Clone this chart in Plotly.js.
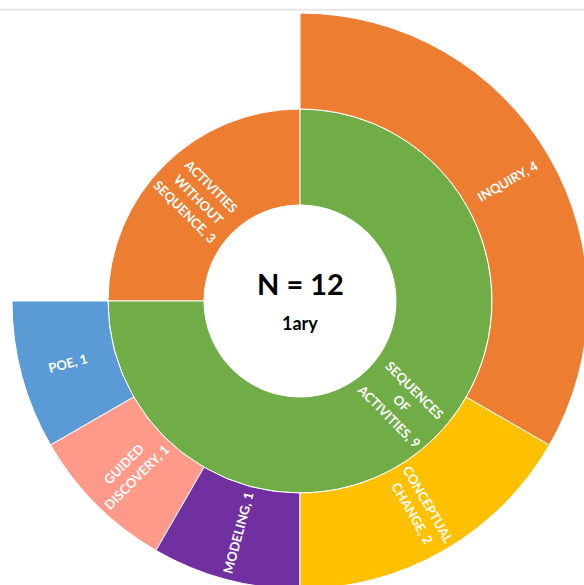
<!DOCTYPE html>
<html>
<head>
<meta charset="utf-8">
<script src="https://cdn.plot.ly/plotly-3.0.1.min.js"></script>
<style>
html,body{margin:0;padding:0;overflow:hidden;background:#fff;width:584px;height:585px;}
#chart{width:589px;height:589px;}
</style>
</head>
<body>
<div id="chart"></div>
<script>
// Data (order is counterclockwise from 12 o'clock, as the sunburst draws it)
const ids = ['root', 'wo', 'seq', 'poe', 'gd', 'mod', 'cc', 'inq'];
const labels = ['N = 12', 'ACTIVITIES<br>WITHOUT<br>SEQUENCE', 'SEQUENCES<br>OF<br>ACTIVITIES', 'POE', 'GUIDED<br>DISCOVERY', 'MODELING', 'CONCEPTUAL<br>CHANGE', 'INQUIRY'];
const parents = ['', 'root', 'root', 'seq', 'seq', 'seq', 'seq', 'seq'];
const values = [12, 3, 9, 1, 1, 1, 2, 4];
const colors = ['#FFFFFF', '#ED7D31', '#70AD47', '#5B9BD5', '#FF9A8A', '#7030A0', '#FFC000', '#ED7D31'];
const centerTitle = 'N = 12';
const centerSub = '1ary';

// Layout constants
const W = 589, H = 589, ML = 12, MR = 1, MT = 13, MB = 0;
const R = Math.min(W - ML - MR, H - MT - MB) / 2;   // outer radius of the sunburst
const ringW = R / 3;                                  // root disc + 2 rings
const lineGap = 18;
const labelFont = {family: 'Lato, "Open Sans", sans-serif', size: 13, color: '#FFFFFF'};

// Angular span of each node, computed from the hierarchy (counterclockwise from 12 o'clock)
const span = {}, depth = {};
ids.forEach(function (id, i) {
  if (!parents[i]) { span[id] = [0, 360]; depth[id] = 0; }
});
ids.forEach(function (id, i) {
  if (!parents[i]) return;
  const p = parents[i];
  const pi = ids.indexOf(p);
  let before = 0;
  for (let j = 0; j < i; j++) if (parents[j] === p) before += values[j];
  const ps = span[p], pw = ps[1] - ps[0];
  const a0 = ps[0] + pw * before / values[pi];
  span[id] = [a0, a0 + pw * values[i] / values[pi]];
  depth[id] = depth[p] + 1;
});

const annotations = [];
ids.forEach(function (id, i) {
  if (depth[id] === 0) return;
  const phi = (span[id][0] + span[id][1]) / 2 * Math.PI / 180;
  const r = (depth[id] + 0.5) * ringW;
  const dx = -Math.sin(phi), dyScreen = -Math.cos(phi);
  let ang = Math.atan2(dyScreen, dx) * 180 / Math.PI;
  if (ang > 90) ang -= 180;
  if (ang < -90) ang += 180;
  const a = ang * Math.PI / 180;
  const lines = (labels[i] + ', ' + values[i]).split('<br>');
  const n = lines.length;
  lines.forEach(function (line, k) {
    const off = (k - (n - 1) / 2) * lineGap;
    const sx = r * dx - off * Math.sin(a);
    const sy = r * dyScreen + off * Math.cos(a);
    annotations.push({
      text: '<b>' + line + '</b>',
      x: 0.5, y: 0.5, xref: 'paper', yref: 'paper',
      xshift: sx, yshift: -sy,
      textangle: ang, showarrow: false, align: 'center',
      font: labelFont
    });
  });
});

annotations.push(
  {text: '<b>' + centerTitle + '</b>', x: 0.5, y: 0.5, xref: 'paper', yref: 'paper',
   yshift: 18, showarrow: false, font: {family: 'Lato, "Open Sans", sans-serif', size: 29, color: '#000000'}},
  {text: '<b>' + centerSub + '</b>', x: 0.5, y: 0.5, xref: 'paper', yref: 'paper',
   yshift: -22, showarrow: false, font: {family: 'Lato, "Open Sans", sans-serif', size: 18, color: '#000000'}}
);

const trace = {
  type: 'sunburst',
  ids: ids,
  labels: labels,
  parents: parents,
  values: values,
  branchvalues: 'total',
  sort: false,
  rotation: 90,
  textinfo: 'none',
  marker: {colors: colors, line: {color: '#FFFFFF', width: 1}},
  leaf: {opacity: 1},
  hoverinfo: 'none',
  domain: {x: [0, 1], y: [0, 1]}
};

const layout = {
  width: W,
  height: H,
  margin: {l: ML, r: MR, t: MT, b: MB, pad: 0},
  paper_bgcolor: '#FFFFFF',
  showlegend: false,
  shapes: [{
    type: 'line', xref: 'paper', yref: 'paper',
    x0: -0.05, x1: 1.05, y0: 1.0055, y1: 1.0055,
    line: {color: '#E6E6E6', width: 2}
  }],
  annotations: annotations
};

Plotly.newPlot('chart', [trace], layout, {displayModeBar: false, staticPlot: true});
</script>
</body>
</html>
